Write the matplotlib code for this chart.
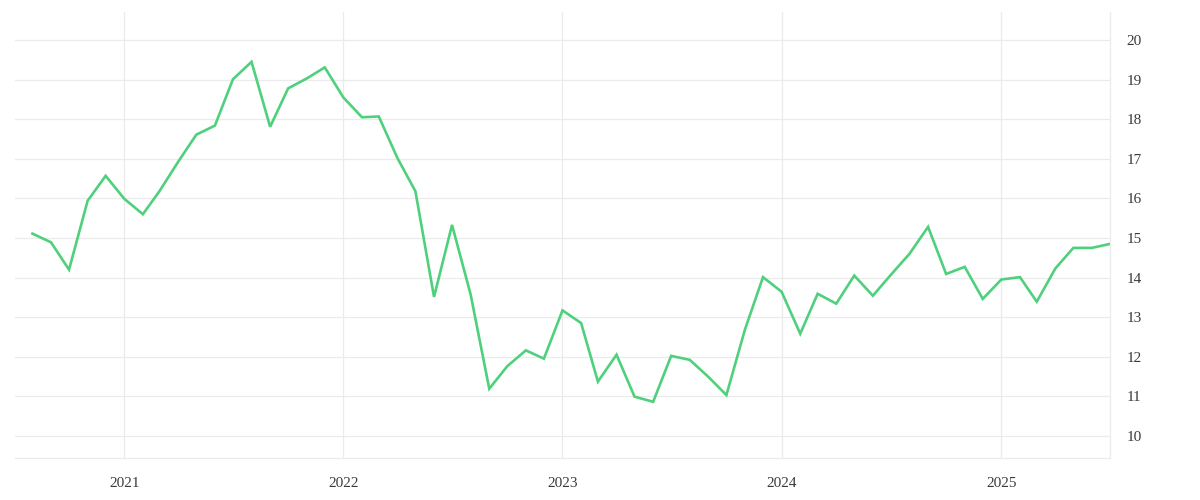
import matplotlib
matplotlib.use("Agg")
import matplotlib.pyplot as plt
import matplotlib.dates as mdates
import pandas as pd

# monthly values, Aug 2020 .. Jul 2025
months = pd.date_range("2020-08-01", "2025-07-01", freq="MS")
values = [
    15.11, 14.89, 14.20, 15.94, 16.57,
    15.99, 15.60, 16.19, 16.93, 17.61, 17.84, 19.01, 19.45, 17.81, 18.78, 19.03, 19.31,
    18.55, 18.05, 18.07, 17.02, 16.18, 13.51, 15.33, 13.57, 11.19, 11.76, 12.16, 11.95,
    13.17, 12.85, 11.37, 12.05, 10.99, 10.86, 12.02, 11.92, 11.49, 11.03, 12.69, 14.01,
    13.64, 12.58, 13.59, 13.34, 14.05, 13.54, 14.07, 14.60, 15.28, 14.09, 14.27, 13.46,
    13.95, 14.01, 13.39, 14.23, 14.75, 14.75, 14.85,
]
yticks = [10, 11, 12, 13, 14, 15, 16, 17, 18, 19, 20]
years = ["2021", "2022", "2023", "2024", "2025"]

plt.rcParams['font.family'] = ['Liberation Serif', 'DejaVu Serif']

fig = plt.figure(figsize=(12, 5), dpi=100)
ax = fig.add_axes([15 / 1200, 42 / 500, 1095 / 1200, 446 / 500])

ax.plot(months, values, color="#4fd07d", linewidth=1.9, solid_joinstyle="miter")

ax.set_ylim(9.44, 20.71)
ax.set_xlim(pd.Timestamp("2020-07-03"), pd.Timestamp("2025-07-01"))
ax.set_yticks(yticks)
ax.set_xticks([pd.Timestamp(y + "-01-01") for y in years])
ax.xaxis.set_major_formatter(mdates.DateFormatter("%Y"))

ax.yaxis.tick_right()
ax.tick_params(axis="both", length=0, labelsize=11, colors="#3a3a3a")
ax.tick_params(axis="y", pad=12)
ax.tick_params(axis="x", pad=14)

ax.grid(True, color="#ebebeb", linewidth=0.9)
ax.set_axisbelow(True)
for side in ["top", "left"]:
    ax.spines[side].set_visible(False)
for side in ["bottom", "right"]:
    ax.spines[side].set_color("#ebebeb")
    ax.spines[side].set_linewidth(0.9)

fig.savefig("out.png", dpi=100)
